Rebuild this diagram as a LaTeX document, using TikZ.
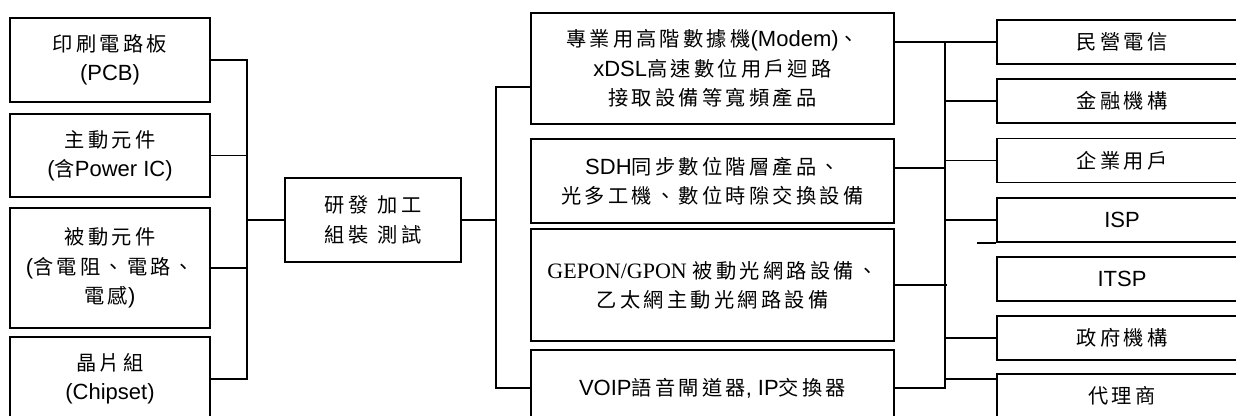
\documentclass[tikz,border=0pt]{standalone}
\usepackage{fontspec}
\setmainfont{Liberation Sans}
\newfontfamily\cj[Scale=0.92,LetterSpace=16]{Noto Sans CJK TC}
\newfontfamily\tms{Liberation Serif}
\usetikzlibrary{positioning,calc}

\begin{document}
\begin{tikzpicture}[x=0.75pt, y=-0.75pt, line width=1.3pt,
    box/.style={draw, align=center, inner sep=0pt, font=\fontsize{16.5pt}{22pt}\selectfont},
    leftbox/.style={box, minimum width=150pt},
    midbox/.style={box, minimum width=272.25pt},
    rightbox/.style={box, minimum width=187.5pt, minimum height=33pt}]
    \useasboundingbox (0,0) rectangle (1236,416);
    \clip (0,0) rectangle (1236,416);

    \node[leftbox, minimum height=63pt] (pcb) at (110,60) {{\cj 印刷電路板}\\(PCB)};
    \node[leftbox, minimum height=62.25pt] (active) at (110,155.5) {{\cj 主動元件}\\({\cj 含}Power IC)};
    \node[leftbox, minimum height=90pt] (passive) at (110,268) {{\cj 被動元件}\\({\cj 含電阻、電路、}\\{\cj 電感})};
    \node[leftbox, minimum height=63pt] (chipset) at (110,379) {{\cj 晶片組}\\(Chipset)};

    \node[box, minimum width=132pt, minimum height=63pt] (core) at (373,220) {{\cj 研發}\hspace{7pt}{\cj 加工}\\{\cj 組裝}\hspace{7pt}{\cj 測試}};

    \node[midbox, minimum height=83.25pt] (modem) at (712.5,68.5) {{\cj 專業用高階數據機}(Modem){\cj 、}\\xDSL{\cj 高速數位用戶迴路}\\{\cj 接取設備等寬頻產品}};
    \node[midbox, minimum height=63pt] (sdh) at (712.5,181) {SDH{\cj 同步數位階層產品、}\\{\cj 光多工機、數位時隙交換設備}};
    \node[midbox, minimum height=84pt] (gepon) at (712.5,285) {{\tms GEPON/GPON} {\cj 被動光網路設備、}\\{\cj 乙太網主動光網路設備}};
    \node[midbox, minimum height=57pt] (voip) at (712.5,388) {VOIP{\cj 語音閘道器}, IP{\cj 交換器}};

    \node[rightbox] (minying) at (1122,42) {\cj 民營電信};
    \node[rightbox] (finance) at (1122,101) {\cj 金融機構};
    \node[rightbox] (enterprise) at (1122,160.5) {\cj 企業用戶};
    \node[rightbox] (isp) at (1122,220) {ISP};
    \node[rightbox] (itsp) at (1122,279) {ITSP};
    \node[rightbox] (gov) at (1122,338) {\cj 政府機構};
    \node[rightbox] (agent) at (1122,396) {\cj 代理商};

    \coordinate (lbus) at (247,220);
    \draw (pcb.east) -| (lbus |- chipset) -- (chipset.east);
    \draw (active.east) -- (active.east -| lbus);
    \draw (passive.east) -- (passive.east -| lbus);
    \draw (lbus) -- (core.west);

    \coordinate (mbus) at (496,87);
    \draw (core.east) -- (core.east -| mbus);
    \draw (mbus -| modem.west) -- (mbus) |- (voip.west);

    \coordinate (rbus) at (945,42);
    \coordinate (sdhout) at ([yshift=9.75pt]sdh.east);
    \coordinate (agentin) at ([yshift=12.75pt]agent.west);
    \draw (modem.east |- minying) -- (minying.west);
    \draw (rbus) -- (rbus |- voip) -- (voip.east);
    \draw (sdhout) -- (sdhout -| rbus);
    \draw (gepon.east) -- ([xshift=1.5pt]gepon.east -| rbus);
    \foreach \n in {finance,enterprise,isp,gov}
        \draw (\n.west -| rbus) -- (\n.west);
    \draw (agentin) -- (agentin -| rbus);
    \draw (isp.south west) -- ++(-19,0);
\end{tikzpicture}
\end{document}
